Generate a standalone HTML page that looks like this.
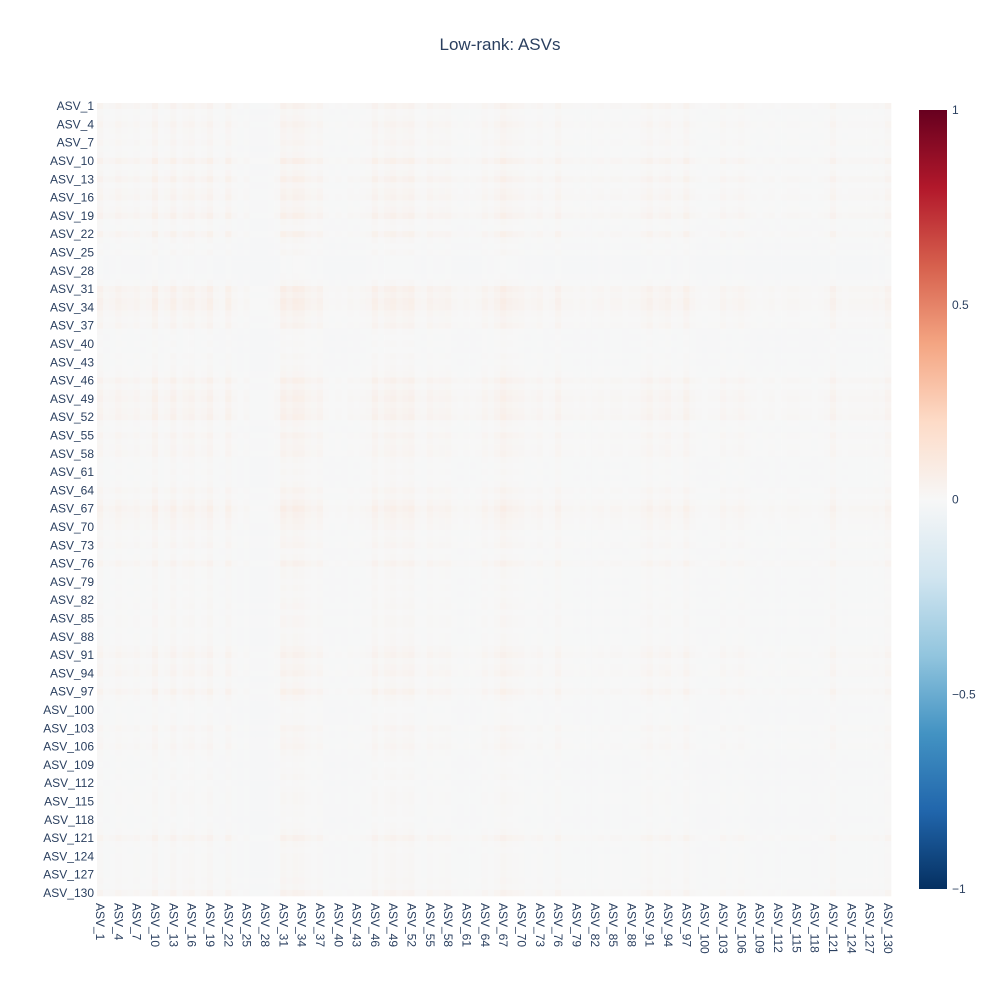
<!DOCTYPE html>
<html><head><meta charset="utf-8"><style>
body{margin:0;background:#fff;font-family:"Liberation Sans",sans-serif;}
svg text{font-family:"Liberation Sans",sans-serif;fill:#2a3f5f;}
</style></head><body>
<svg id="chart" width="1000" height="1000">
<text x="500" y="50" text-anchor="middle" font-size="17">Low-rank: ASVs</text>
<g id="cells"></g>
<g id="ylab"></g>
<g id="xlab"></g>
<defs><linearGradient id="cb" x1="0" y1="1" x2="0" y2="0">
<stop offset="0" stop-color="rgb(5,48,97)"/><stop offset="0.1" stop-color="rgb(33,102,172)"/><stop offset="0.2" stop-color="rgb(67,147,195)"/><stop offset="0.3" stop-color="rgb(146,197,222)"/><stop offset="0.4" stop-color="rgb(209,229,240)"/><stop offset="0.5" stop-color="rgb(247,247,247)"/><stop offset="0.6" stop-color="rgb(253,219,199)"/><stop offset="0.7" stop-color="rgb(244,165,130)"/><stop offset="0.8" stop-color="rgb(214,96,77)"/><stop offset="0.9" stop-color="rgb(178,24,43)"/><stop offset="1" stop-color="rgb(103,0,31)"/>
</linearGradient></defs>
<rect x="919" y="110" width="28" height="779" fill="url(#cb)"/>
<g id="cbt"></g>
</svg>
<script>
// Per-ASV loadings (low-rank factor)
const loadings = [
0.22,0.10,0.12,0.20,0.14,0.12,0.16,0.10,0.12,0.28,0.10,0.14,0.26,0.12,0.18,0.22,0.12,0.16,0.26,0.10,
0.08,0.24,0.10,0.06,0.10,0.04,0.04,0.04,0.06,0.10,0.30,0.22,0.30,0.28,0.18,0.14,0.20,0.08,0.06,0.08,
0.06,0.10,0.08,0.10,0.12,0.26,0.14,0.22,0.26,0.18,0.22,0.26,0.12,0.10,0.20,0.14,0.16,0.18,0.10,0.08,
0.10,0.08,0.10,0.18,0.12,0.20,0.30,0.22,0.18,0.16,0.10,0.12,0.16,0.08,0.10,0.22,0.10,0.10,0.08,0.10,
0.08,0.10,0.12,0.08,0.12,0.12,0.08,0.10,0.10,0.16,0.22,0.12,0.16,0.20,0.10,0.12,0.24,0.12,0.08,0.06,
0.08,0.08,0.16,0.10,0.12,0.16,0.10,0.08,0.06,0.08,0.10,0.06,0.08,0.10,0.10,0.08,0.08,0.06,0.08,0.10,
0.22,0.10,0.08,0.10,0.10,0.10,0.10,0.12,0.10,0.20];
const baseline = 0.012;
const colorTicks = [1,0.5,0,-0.5,-1];
const colorTickLabels = ["1","0.5","0","−0.5","−1"];
const N = loadings.length;
const categories = Array.from({length:N},(_,i)=>"ASV_"+(i+1));
const X0=97, Y0=103, W=794, H=793, cw=W/N, ch=H/N;
const xPos=i=>X0+i*cw, yPos=i=>Y0+i*ch;
const stops=[[5,48,97],[33,102,172],[67,147,195],[146,197,222],[209,229,240],[247,247,247],[253,219,199],[244,165,130],[214,96,77],[178,24,43],[103,0,31]];
function color(v){let t=(Math.max(-1,Math.min(1,v))+1)/2*10;let k=Math.min(9,Math.floor(t)),f=t-k;const a=stops[k],b=stops[k+1];
return "rgb("+a.map((c,j)=>Math.round(c+(b[j]-c)*f)).join(",")+")";}
const NS="http://www.w3.org/2000/svg";
const g=document.getElementById("cells");
for(let i=0;i<N;i++)for(let j=0;j<N;j++){
 const r=document.createElementNS(NS,"rect");
 r.setAttribute("x",xPos(j));r.setAttribute("y",yPos(i));
 r.setAttribute("width",cw+0.3);r.setAttribute("height",ch+0.3);
 r.setAttribute("fill",color(loadings[i]*loadings[j]*0.9-baseline));
 
 
 g.appendChild(r);}
const yl=document.getElementById("ylab"),xl=document.getElementById("xlab");
for(let i=0;i<N;i+=3){
 const t=document.createElementNS(NS,"text");
 t.setAttribute("x",X0-3);t.setAttribute("y",yPos(i)+ch/2+4);t.setAttribute("text-anchor","end");t.setAttribute("font-size","12");
 t.textContent=categories[i];
 
 
 yl.appendChild(t);
 const u=document.createElementNS(NS,"text");
 const cx=xPos(i)+cw/2;
 u.setAttribute("transform","translate("+(cx-4)+",903) rotate(90)");u.setAttribute("font-size","12");
 u.textContent=categories[i];
 
 
 xl.appendChild(u);}
const cb=document.getElementById("cbt");
colorTicks.forEach((v,k)=>{
 const t=document.createElementNS(NS,"text");
 t.setAttribute("x",952);t.setAttribute("y",110+(1-v)/2*779+4);t.setAttribute("font-size","12");
 t.textContent=colorTickLabels[k];
 
 
 cb.appendChild(t);});
</script>
</body></html>
